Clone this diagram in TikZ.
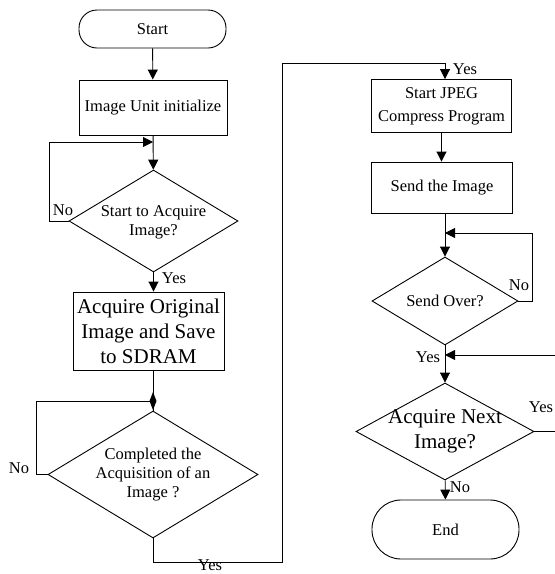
\documentclass[tikz,border=0pt]{standalone}
\usepackage{fontspec}
\setmainfont{Liberation Serif}
\usetikzlibrary{arrows.meta,shapes.geometric}
\begin{document}
\begin{tikzpicture}[x=1pt,y=-1pt,
  line width=0.9pt,
  font=\fontsize{16.5}{19}\selectfont,
  arr/.style={-{Triangle[length=10pt,width=10pt]}},
  box/.style={draw,rectangle,inner sep=0pt,align=center},
  term/.style={draw,rectangle,rounded corners=18pt,inner sep=0pt,align=center},
  dec/.style={draw,diamond,inner sep=0pt},
  lbl/.style={inner sep=0pt,font=\fontsize{16.5}{19}\selectfont},
  big/.style={font=\fontsize{21}{25}\selectfont}]
\useasboundingbox (0,0) rectangle (555,574);

% left column
\node[term,minimum width=147pt,minimum height=38pt] (start) at (152.5,29) {Start};
\node[box,minimum width=148pt,minimum height=55pt] (init) at (153,107.5) {Image Unit initialize};
\node[dec,minimum width=169pt,minimum height=102pt,
  label={[align=center,inner sep=0pt,yshift=-1pt]center:Start to Acquire\\Image?}] (q1) at (153.5,221) {};
\node[box,big,minimum width=151pt,minimum height=78pt] (acq) at (148.5,331)
  {Acquire Original\\Image and Save\\to SDRAM};
\node[dec,minimum width=210pt,minimum height=127pt,
  label={[align=center,inner sep=0pt]center:Completed the\\Acquisition of an\\Image ?}] (q2) at (153,474.5) {};

% right column
\node[box,minimum width=140pt,minimum height=53pt,font=\fontsize{16.5}{23}\selectfont] (jpeg) at (441.5,106)
  {Start JPEG\\Compress Program};
\node[box,minimum width=141pt,minimum height=51pt] (send) at (442,187.5) {Send the Image};
\node[dec,minimum width=146pt,minimum height=88pt,
  label={[inner sep=0pt]center:Send Over?}] (q3) at (445,301) {};
\node[dec,minimum width=178pt,minimum height=97pt,
  label={[align=center,inner sep=0pt,big]center:Acquire Next\\Image?}] (q4) at (445,431.5) {};
\node[term,rounded corners=29pt,minimum width=147pt,minimum height=59pt] (end) at (445.5,529.5) {End};

% helper points
\coordinate (l1) at (153,142);
\coordinate (l1c) at (49,221);
\coordinate (j2) at (153,401);
\coordinate (l2c) at (36,474.5);
\coordinate (y1) at (282,562);
\coordinate (y2) at (445,63);
\coordinate (l3) at (445,233);
\coordinate (l3c) at (532,301);
\coordinate (l4) at (445,355);
\coordinate (l4c) at (559,431.5);

% main flow
\draw[arr] (start) -- (init);
\draw[arr] (init) -- (q1);
\draw[arr] (q1) -- (acq.north -| q1.south);
\draw (acq.south -| q2.north) -- (q2);
\draw[arr] (jpeg) -- (send.north -| jpeg.south);
\draw[arr] (send.south -| q3.north) -- (q3);
\draw[arr] (q3) -- (q4);
\draw[arr] (q4) -- (end);

% loops
\draw[arr] (q1.west) -- (l1c) |- (l1);
\draw (q2.west) -- (l2c) |- (j2);
\fill (153,392) -- (156.5,401) -- (153,410) -- (149.5,401) -- cycle;
\draw[arr] (q2.south) |- (y1) |- (y2) -- (jpeg.north -| y2);
\draw[arr] (q3.east) -- (l3c) |- (l3);
\draw[arr] (q4.east) -- (l4c) |- (l4);

% branch labels
\node[lbl] (n1) at (63,210) {No};
\node[lbl] (ys1) at (174,278) {Yes};
\node[lbl] (n2) at (19,468) {No};
\node[lbl] (ys2) at (210,565) {Yes};
\node[lbl] (ys3) at (465,69) {Yes};
\node[lbl] (n3) at (519,285) {No};
\node[lbl] (ys4) at (428,357) {Yes};
\node[lbl] (ys5) at (541,407) {Yes};
\node[lbl] (n4) at (460,487) {No};
\end{tikzpicture}
\end{document}
